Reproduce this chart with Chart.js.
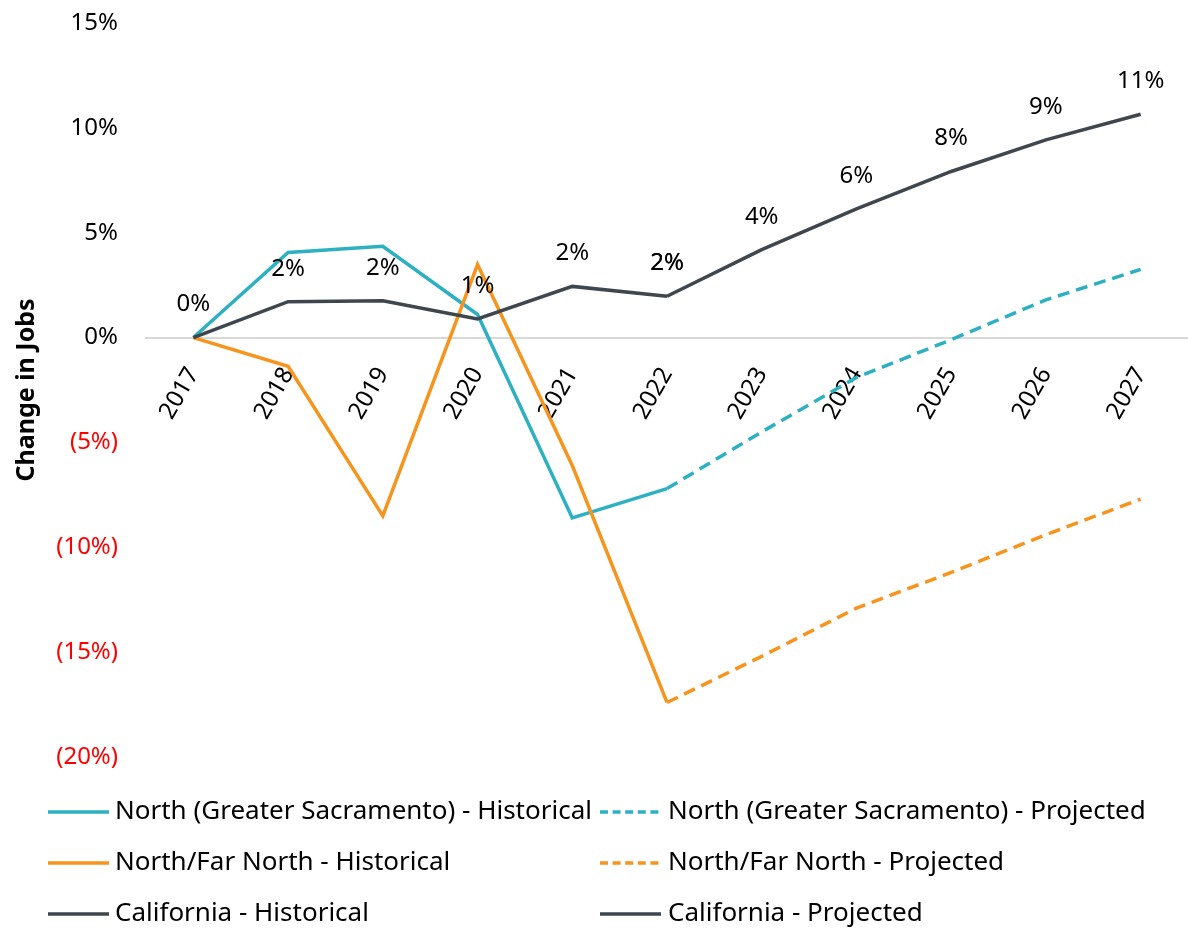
<!DOCTYPE html>
<html>
<head>
<meta charset="utf-8">
<script src="https://cdn.jsdelivr.net/npm/chart.js@4.4.1/dist/chart.umd.min.js"></script>
<style>
  html, body { margin: 0; padding: 0; background: #ffffff; }
  canvas { display: block; }
</style>
</head>
<body>
<canvas id="jobsChart" width="1188" height="933"></canvas>
<script>
// Years on the category axis
const years = ['2017', '2018', '2019', '2020', '2021', '2022', '2023', '2024', '2025', '2026', '2027'];

// Cumulative change in jobs since 2017, in percent
const sacHistorical      = [0, 4.06, 4.35, 1.1, -8.6, -7.2, null, null, null, null, null];
const sacProjected       = [null, null, null, null, null, -7.2, -4.5, -1.9, -0.1, 1.8, 3.25];
const farNorthHistorical = [0, -1.37, -8.5, 3.48, -6.1, -17.4, null, null, null, null, null];
const farNorthProjected  = [null, null, null, null, null, -17.4, -15.2, -12.9, -11.2, -9.4, -7.7];
const caHistorical       = [0, 1.71, 1.76, 0.89, 2.44, 1.97, null, null, null, null, null];
const caProjected        = [null, null, null, null, null, 1.97, 4.19, 6.14, 7.92, 9.43, 10.65];

// Value axis tick settings
const yMin = -20;
const yMax = 15;
const yStep = 5;

const TEAL = '#2cb0c2';
const ORANGE = '#f7941e';
const SLATE = '#3e464e';
const FONT = "'Noto Sans', 'Open Sans', sans-serif";
const DASH = [12, 7];

function series(label, data, color, dashed, showValues, order) {
  return {
    label, data,
    borderColor: color,
    backgroundColor: color,
    borderWidth: 3.5,
    borderDash: dashed ? DASH : [],
    pointRadius: 0,
    pointHoverRadius: 0,
    tension: 0,
    spanGaps: false,
    fill: false,
    showValues,
    order
  };
}

function pct(v) {
  return v < 0 ? '(' + Math.abs(v) + '%)' : v + '%';
}

// Value labels above the California series
const valueLabels = {
  id: 'valueLabels',
  afterDatasetsDraw(chart) {
    const ctx = chart.ctx;
    ctx.save();
    ctx.font = '24px ' + FONT;
    ctx.fillStyle = '#000000';
    ctx.textAlign = 'center';
    ctx.textBaseline = 'middle';
    chart.data.datasets.forEach((ds, i) => {
      if (!ds.showValues) return;
      const meta = chart.getDatasetMeta(i);
      meta.data.forEach((pt, j) => {
        const v = ds.data[j];
        if (v === null || v === undefined) return;
        ctx.fillText(Math.round(v) + '%', pt.x, pt.y - 33);
      });
    });
    ctx.restore();
  }
};

// Two-column legend underneath the plot
const gridLegend = {
  id: 'gridLegend',
  afterDraw(chart) {
    const ctx = chart.ctx;
    const rows = [812, 863, 914];
    const cols = [{ lineX: 48, textX: 115 }, { lineX: 600, textX: 668 }];
    const lineLen = 61;
    ctx.save();
    ctx.font = '26px ' + FONT;
    ctx.fillStyle = '#000000';
    ctx.textAlign = 'left';
    ctx.textBaseline = 'middle';
    chart.data.datasets.forEach((ds, i) => {
      const c = cols[i % 2];
      const y = rows[Math.floor(i / 2)];
      ctx.beginPath();
      ctx.strokeStyle = ds.borderColor;
      ctx.lineWidth = 3.5;
      ctx.lineCap = 'butt';
      ctx.setLineDash(ds.borderDash.length ? [8, 4.6] : []);
      ctx.moveTo(c.lineX, y);
      ctx.lineTo(c.lineX + lineLen, y);
      ctx.stroke();
      ctx.setLineDash([]);
      ctx.fillText(ds.label, c.textX, y);
    });
    ctx.restore();
  }
};

new Chart(document.getElementById('jobsChart'), {
  type: 'line',
  data: {
    labels: years,
    datasets: [
      series('North (Greater Sacramento) - Historical', sacHistorical, TEAL, false, false, 3),
      series('North (Greater Sacramento) - Projected', sacProjected, TEAL, true, false, 3),
      series('North/Far North - Historical', farNorthHistorical, ORANGE, false, false, 2),
      series('North/Far North - Projected', farNorthProjected, ORANGE, true, false, 2),
      series('California - Historical', caHistorical, SLATE, false, true, 1),
      series('California - Projected', caProjected, SLATE, false, true, 1)
    ]
  },
  options: {
    responsive: false,
    animation: false,
    events: [],
    layout: { padding: { top: 23, bottom: 176, left: 0, right: 0 } },
    plugins: {
      legend: { display: false },
      tooltip: { enabled: false }
    },
    scales: {
      x: {
        position: { y: 0 },
        offset: true,
        grid: { display: false, drawTicks: false },
        border: { display: true, color: '#d9d9d9', width: 2 },
        afterFit(scale) { scale.paddingLeft = 0; scale.paddingRight = 0; },
        ticks: {
          color: '#000000',
          font: { family: FONT, size: 24 },
          minRotation: 60,
          maxRotation: 60,
          padding: 25,
          autoSkip: false
        }
      },
      y: {
        min: yMin,
        max: yMax,
        grid: { display: false, drawTicks: false },
        border: { display: false },
        afterFit(scale) {
          scale.width = 146;
          scale.paddingTop = 0;
          scale.paddingBottom = 0;
        },
        ticks: {
          stepSize: yStep,
          padding: 28,
          font: { family: FONT, size: 24 },
          color: (c) => (c.tick && c.tick.value < 0 ? '#ff0000' : '#000000'),
          callback: (v) => pct(v)
        },
        title: {
          display: true,
          text: 'Change in Jobs',
          color: '#000000',
          font: { family: FONT, size: 25, weight: 'bold' },
          padding: { top: 12, bottom: 0 }
        }
      }
    }
  },
  plugins: [valueLabels, gridLegend]
});
</script>
</body>
</html>
